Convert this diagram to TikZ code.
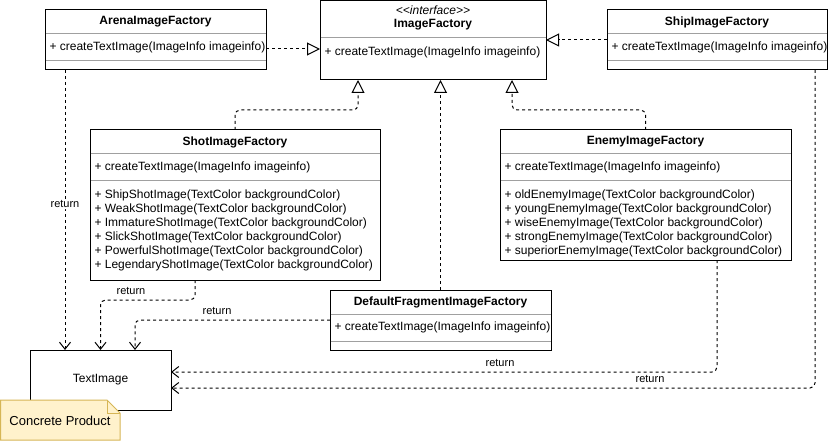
\documentclass[tikz,border=0pt]{standalone}
\usepackage{fontspec}
\setmainfont{Liberation Sans}
\usetikzlibrary{arrows.meta,calc}
\definecolor{notefill}{HTML}{FFF2CC}
\definecolor{notedraw}{HTML}{D6B656}
\definecolor{divgray}{HTML}{A0A0A0}
\begin{document}
\begin{tikzpicture}[x=1pt,y=-1pt,line width=1pt,
  cls/.style={draw=black, fill=white, anchor=north west, inner sep=0pt, outer sep=0pt},
  divline/.style={draw=divgray, line width=1pt},
  ttl/.style={font=\fontsize{12}{14}\selectfont\bfseries, inner sep=0pt},
  mth/.style={font=\fontsize{12}{14}\selectfont, anchor=west, inner sep=0pt},
  lbl/.style={font=\fontsize{11}{13}\selectfont, inner sep=1pt, fill=white},
  realz/.style={draw, dash pattern=on 3pt off 3pt, rounded corners=5pt, -{Triangle[open,length=13pt,width=13pt]}},
  retz/.style={draw, dash pattern=on 3pt off 3pt, rounded corners=5pt, -{Straight Barb[length=7pt,width=11pt]}},
]
\useasboundingbox (0,0) rectangle (828,441);

% ArenaImageFactory
\node[cls, minimum width=221pt, minimum height=60pt] (arena) at (45,10) {};
\draw[divline] (45.5,34) -- (265.5,34) (45.5,61) -- (265.5,61);
\node[ttl] (arenat) at (155.5,22) {ArenaImageFactory};
\node[mth] (arenam) at (49,47.5) {+ createTextImage(ImageInfo imageinfo)};

% ImageFactory
\node[cls, minimum width=226pt, minimum height=79pt] (iface) at (320,1) {};
\node[font=\fontsize{12}{14}\selectfont\itshape, inner sep=0pt] (ifacest) at (433,10.5) {<\kern0pt<interface>\kern0pt>};
\node[ttl] (ifacet) at (433,24.5) {ImageFactory};
\draw[divline] (320.5,38) -- (545.5,38);
\node[mth] (ifacem) at (324,52) {+ createTextImage(ImageInfo imageinfo)};

% ShipImageFactory
\node[cls, minimum width=220pt, minimum height=60pt] (ship) at (607,10) {};
\draw[divline] (607.5,34) -- (826.5,34) (607.5,61) -- (826.5,61);
\node[ttl] (shipt) at (717,22) {ShipImageFactory};
\node[mth] (shipm) at (611,47.5) {+ createTextImage(ImageInfo imageinfo)};

% ShotImageFactory
\node[cls, minimum width=290pt, minimum height=150pt] (shot) at (90,130) {};
\draw[divline] (90.5,154) -- (379.5,154) (90.5,181) -- (379.5,181);
\node[ttl] (shott) at (235,142) {ShotImageFactory};
\node[mth] (shotm) at (94,167.5) {+ createTextImage(ImageInfo imageinfo)};
\foreach \t [count=\i from 0] in {ShipShotImage,WeakShotImage,ImmatureShotImage,SlickShotImage,PowerfulShotImage,LegendaryShotImage}
  \node[mth] (shotop\i) at (94,195+14*\i) {+ \t(TextColor backgroundColor)};

% EnemyImageFactory
\node[cls, minimum width=291pt, minimum height=130pt] (enemy) at (500,130) {};
\draw[divline] (500.5,154) -- (790.5,154) (500.5,181) -- (790.5,181);
\node[ttl] (enemyt) at (645.5,142) {EnemyImageFactory};
\node[mth] (enemym) at (504,167.5) {+ createTextImage(ImageInfo imageinfo)};
\foreach \t [count=\i from 0] in {oldEnemyImage,youngEnemyImage,wiseEnemyImage,strongEnemyImage,superiorEnemyImage}
  \node[mth] (enemyop\i) at (504,195+14*\i) {+ \t(TextColor backgroundColor)};

% DefaultFragmentImageFactory
\node[cls, minimum width=221pt, minimum height=60pt] (deflt) at (330,290) {};
\draw[divline] (330.5,314) -- (550.5,314) (330.5,341) -- (550.5,341);
\node[ttl] (defltt) at (440.5,302) {DefaultFragmentImageFactory};
\node[mth] (defltm) at (334,327.5) {+ createTextImage(ImageInfo imageinfo)};

% TextImage
\node[cls, minimum width=141pt, minimum height=60pt, font=\fontsize{12}{14}\selectfont] (timg) at (30,350) {TextImage};

% Note
\filldraw[fill=notefill, draw=notedraw] (0.5,400) -- (107,400) -- (120,413) -- (120,440) -- (0.5,440) -- cycle;
\draw[notedraw] (107,400) -- (107,413) -- (120,413);
\node[font=\fontsize{13}{15}\selectfont, inner sep=0pt] (note) at (60,421) {Concrete Product};

% realization arrows
\coordinate (a1) at ([yshift=-9pt]arena.east);
\draw[realz] (a1) -- (a1 -| iface.west);
\draw[realz] (ship.west) -- (ship.west -| iface.east);
\coordinate (t1) at ($(iface.south west)+(38,0)$);
\coordinate (t3) at ($(iface.south west)+(192,0)$);
\draw[realz] (shot.north) -- ([yshift=20pt]shot.north) -| (t1);
\draw[realz] (deflt.north) -- (deflt.north |- iface.south);
\draw[realz] (enemy.north) -- ([yshift=20pt]enemy.north) -| (t3);

% return arrows
\coordinate (ra) at ($(arena.south west)+(20,0)$);
\draw[retz] (ra) -- node[lbl, pos=0.48] {return} (ra |- timg.north);
\coordinate (rb) at ($(shot.south west)+(105,0)$);
\draw[retz] (rb) -- ([yshift=-20pt]rb) -| (timg.north);
\node[lbl] (lb) at (131,291) {return};
\coordinate (tc) at ($(timg.north west)+(105,0)$);
\draw[retz] (deflt.west) -| (tc);
\node[lbl] (lc) at (217,311) {return};
\coordinate (rd) at ($(enemy.south west)+(217,0)$);
\draw[retz] (rd) |- ([yshift=8pt]timg.east);
\node[lbl] (ld) at (500,363) {return};
\coordinate (re) at ($(ship.south west)+(208,0)$);
\draw[retz] (re) |- ([yshift=-8pt]timg.east);
\node[lbl] (le) at (650,379) {return};
\end{tikzpicture}
\end{document}
